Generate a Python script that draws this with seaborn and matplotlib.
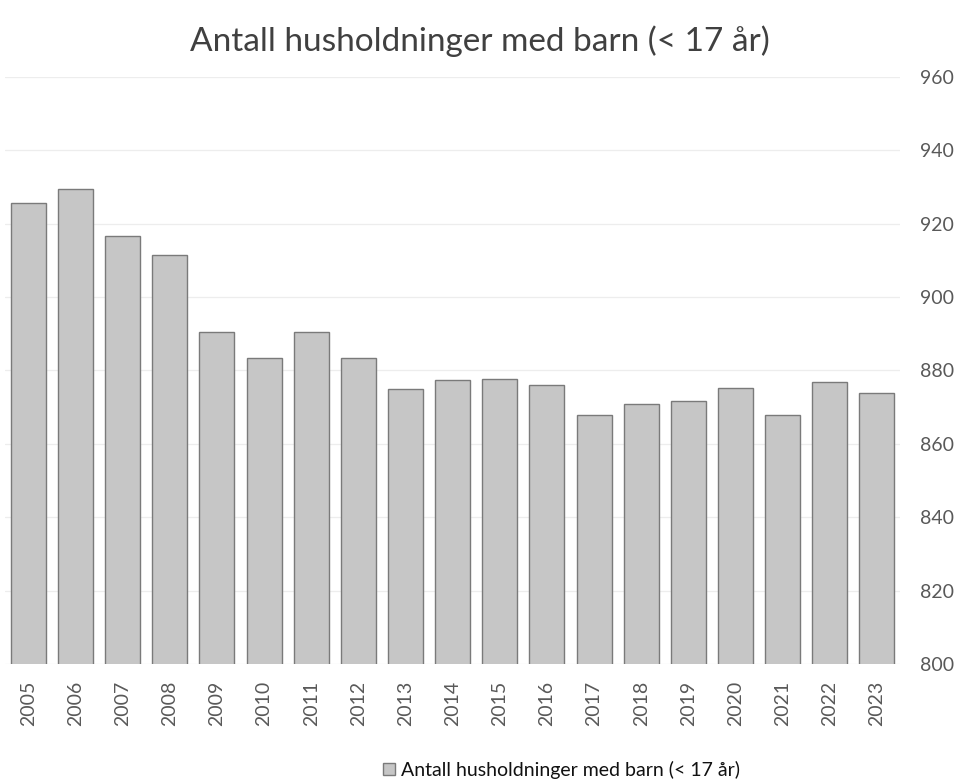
import pandas as pd
import matplotlib
matplotlib.use("Agg")
import matplotlib.pyplot as plt
import seaborn as sns

# Data
years = [str(y) for y in range(2005, 2024)]
households = [925.7, 929.5, 916.5, 911.5, 890.4, 883.5, 890.5, 883.5, 874.9, 877.5,
              877.6, 875.9, 867.8, 870.9, 871.8, 875.1, 867.8, 876.9, 873.8]
y_ticks = [800, 820, 840, 860, 880, 900, 920, 940, 960]
series_label = "Antall husholdninger med barn (< 17 år)"

df = pd.DataFrame({"year": years, "value": households, "serie": series_label})

sns.set_theme(style="white")
plt.rcParams["font.family"] = ["Lato", "DejaVu Sans"]

fig = plt.figure(figsize=(9.6, 7.84), dpi=100)
ax = fig.add_axes([0.005, 0.153, 0.933, 0.749])

sns.barplot(
    data=df,
    x="year",
    y="value",
    hue="serie",
    palette=["#c6c6c6"],
    edgecolor="#7a7a7a",
    linewidth=1.0,
    width=0.74,
    ax=ax,
    zorder=2,
)

ax.set_ylim(800, 960)
ax.set_yticks(y_ticks)
ax.yaxis.tick_right()
ax.yaxis.set_label_position("right")
ax.tick_params(axis="y", labelsize=14, colors="#595959", length=0, pad=14)
ax.tick_params(axis="x", labelsize=14, colors="#595959", length=0, pad=12)
plt.setp(ax.get_xticklabels(), rotation=90)
ax.set_xlabel("")
ax.set_ylabel("")
ax.grid(True, axis="y", color="#ededed", linewidth=0.9, zorder=0)
ax.set_axisbelow(True)
for s in ax.spines.values():
    s.set_visible(False)

ax.legend_.remove()
handles, labels = ax.get_legend_handles_labels()
fig.legend(
    handles,
    labels,
    loc="center",
    bbox_to_anchor=(0.585, 0.018),
    frameon=False,
    fontsize=14,
    handlelength=0.6,
    handleheight=0.6,
    handletextpad=0.3,
    labelcolor="#111111",
)

fig.suptitle(series_label, x=0.5, y=0.968, fontsize=24, color="#404040")

fig.savefig("out.png", dpi=100)
